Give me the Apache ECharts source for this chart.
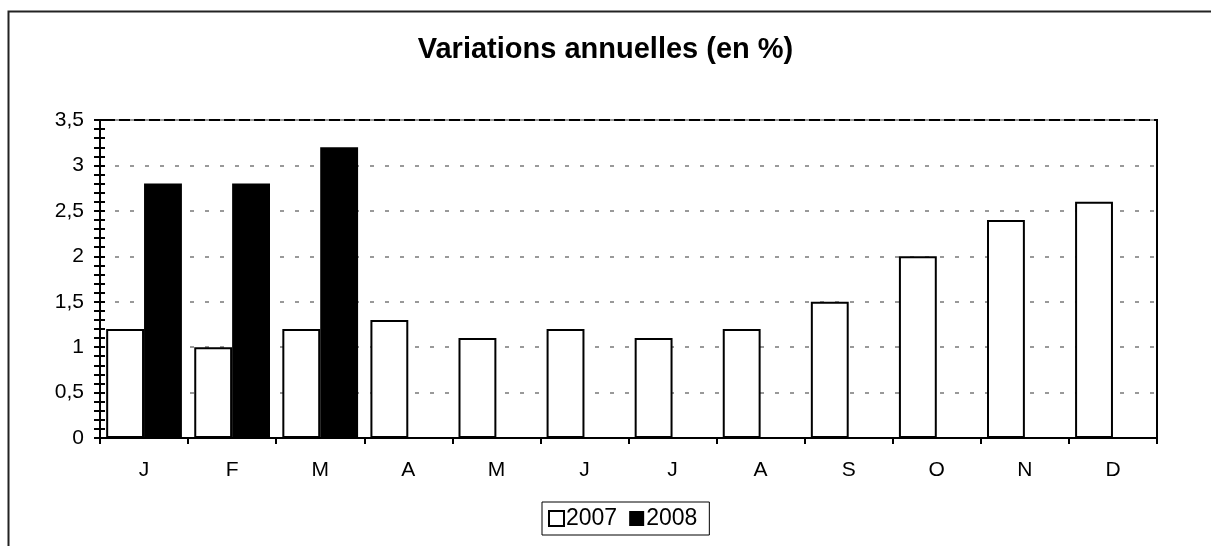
<!DOCTYPE html>
<html>
<head>
<meta charset="utf-8">
<script src="https://cdn.jsdelivr.net/npm/echarts@6/dist/echarts.min.js"></script>
<style>
  body { margin: 0; background: #fff; }
  #chart { width: 1211px; height: 546px; }
</style>
</head>
<body>
<div id="chart"></div>
<script>
const months = ['J', 'F', 'M', 'A', 'M', 'J', 'J', 'A', 'S', 'O', 'N', 'D'];
const values2007 = [1.2, 1.0, 1.2, 1.3, 1.1, 1.2, 1.1, 1.2, 1.5, 2.0, 2.4, 2.6];
const values2008 = [2.8, 2.8, 3.2];

const font = 'Arial, "Liberation Sans", sans-serif';
const chart = echarts.init(document.getElementById('chart'), null, { renderer: 'canvas' });

const fmt = v => String(v).replace('.', ',');

chart.setOption({
  animation: false,
  backgroundColor: '#fff',
  textStyle: { fontFamily: font, color: '#000' },
  title: {
    text: 'Variations annuelles (en %)',
    left: 'center',
    top: 30,
    textStyle: { fontFamily: font, fontSize: 29, fontWeight: 'bold', color: '#000' }
  },
  graphic: [{
    type: 'rect',
    shape: { x: 8.5, y: 11.5, width: 1300, height: 700 },
    style: { fill: 'none', stroke: '#222', lineWidth: 2 },
    silent: true
  }],
  grid: {
    left: 100, top: 120, right: 54, bottom: 108,
    show: true, borderColor: '#000', borderWidth: 2
  },
  legend: {
    top: 502,
    left: 542,
    data: ['2007', '2008'],
    icon: 'rect',
    itemWidth: 15,
    itemHeight: 15,
    itemGap: 12,
    padding: [5, 12, 5, 6],
    borderColor: '#000',
    borderWidth: 1,
    borderRadius: 0,
    textStyle: { fontFamily: font, fontSize: 23, color: '#000', padding: [0, 0, 0, -3] }
  },
  xAxis: {
    type: 'category',
    data: months,
    axisLine: { lineStyle: { color: '#000', width: 2 } },
    axisTick: { show: true, length: 6, lineStyle: { color: '#000', width: 2 } },
    axisLabel: { fontFamily: font, fontSize: 21, color: '#000', margin: 22 },
    splitLine: { show: false }
  },
  yAxis: [{
    type: 'value',
    min: 0, max: 3.5, interval: 0.5,
    axisLine: { show: true, lineStyle: { color: '#000', width: 2 } },
    axisTick: { show: true, length: 6, lineStyle: { color: '#000', width: 2 } },
    minorTick: { show: true, splitNumber: 5, length: 6, lineStyle: { color: '#000', width: 2 } },
    axisLabel: { fontFamily: font, fontSize: 21, color: '#000', margin: 16, formatter: fmt },
    splitLine: { show: true, lineStyle: { color: '#999', width: 2, type: [4, 11] } }
  }, {
    type: 'value',
    position: 'left',
    min: 0, max: 3.5, interval: 0.5,
    axisLine: { show: false },
    axisTick: { show: true, inside: true, length: 5, lineStyle: { color: '#000', width: 2 } },
    minorTick: { show: true, splitNumber: 5, length: 5, lineStyle: { color: '#000', width: 2 } },
    axisLabel: { show: false },
    splitLine: { show: false }
  }],
  series: [{
    name: '2007',
    type: 'bar',
    data: values2007,
    barGap: '0%',
    barCategoryGap: '14%',
    itemStyle: { color: '#fff', borderColor: '#000', borderWidth: 2 }
  }, {
    name: '2008',
    type: 'bar',
    data: values2008,
    barGap: '0%',
    barCategoryGap: '14%',
    itemStyle: { color: '#000' }
  }]
});
</script>
</body>
</html>
